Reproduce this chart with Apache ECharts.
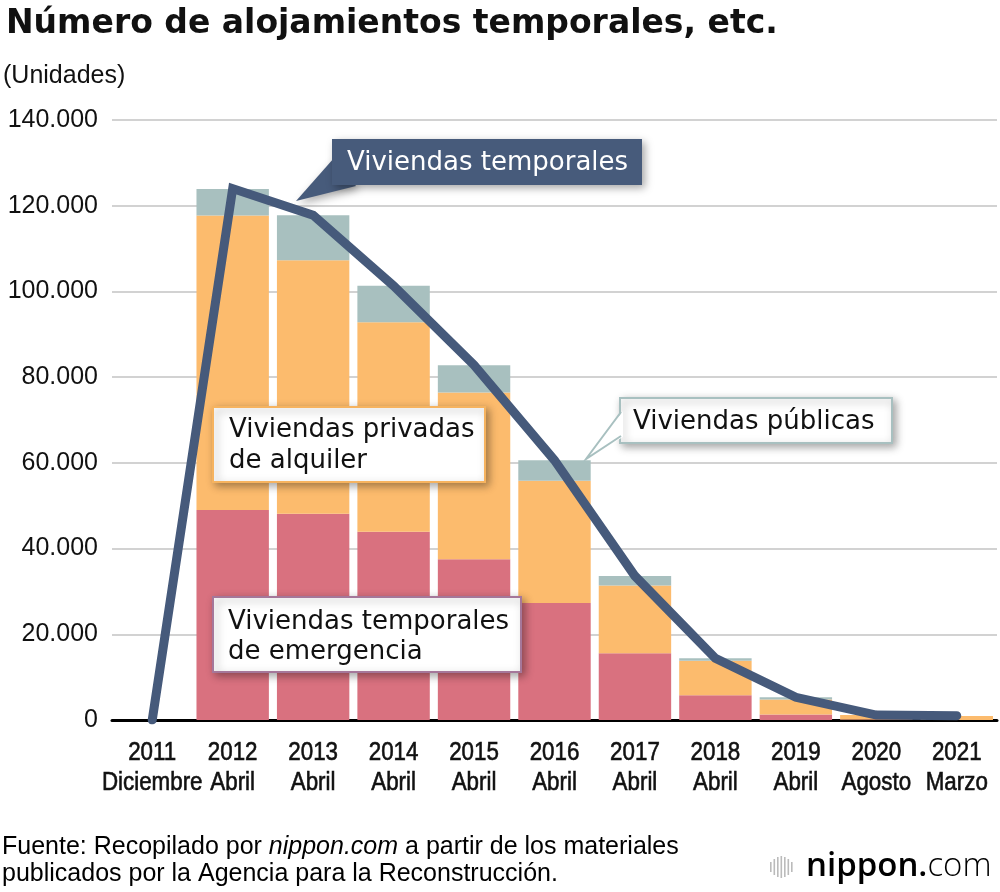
<!DOCTYPE html>
<html><head><meta charset="utf-8">
<script src="https://cdn.jsdelivr.net/npm/echarts@6/dist/echarts.min.js"></script>
<style>html,body{margin:0;padding:0;background:#fff}#c{width:1000px;height:892px}</style>
</head><body><div id="c"></div>
<script>
const categories = ['2011\nDiciembre','2012\nAbril','2013\nAbril','2014\nAbril','2015\nAbril','2016\nAbril','2017\nAbril','2018\nAbril','2019\nAbril','2020\nAgosto','2021\nMarzo'];
const emergencia = [0, 49000, 48100, 43900, 37500, 27300, 15600, 5800, 1300, 100, 0];
const privadas   = [0, 68700, 59200, 48900, 38900, 28500, 15800, 8000, 3500, 1050, 950];
const publicas   = [0, 6200, 10500, 8500, 6400, 4800, 2200, 600, 500, 0, 0];
const totales    = [0, 124000, 117800, 101300, 82800, 60600, 33600, 14400, 5300, 1150, 1000];
const yTickValues = [0, 20000, 40000, 60000, 80000, 100000, 120000, 140000];
const yTickLabels = ['0', '20.000', '40.000', '60.000', '80.000', '100.000', '120.000', '140.000'];

const chart = echarts.init(document.getElementById('c'), null, {renderer: 'canvas'});
const shadow = {shadowBlur: 8, shadowOffsetX: 3, shadowOffsetY: 3, shadowColor: 'rgba(0,0,0,0.35)'};

const staticGraphics = [
  {type: 'text', left: 6, top: 8, z: 10,
   style: {text: 'Número de alojamientos temporales, etc.', fill: '#111',
     font: 'bold 33px "DejaVu Sans", sans-serif'}},
  {type: 'text', left: 3, top: 64, z: 10,
   style: {text: '(Unidades)', fill: '#111', font: '25px "Liberation Sans", Arial, sans-serif'}},

  // Viviendas temporales callout
  {type: 'polygon', z: 20, shape: {points: [[334, 158], [296, 201], [356, 186]]},
   style: Object.assign({fill: '#475b7b'}, shadow)},
  {type: 'rect', z: 21, shape: {x: 332, y: 139, width: 310, height: 46},
   style: Object.assign({fill: '#475b7b'}, shadow)},
  {type: 'text', z: 22, x: 347, y: 163,
   style: {text: 'Viviendas temporales', fill: '#fff', font: '26px "DejaVu Sans", sans-serif',
     textVerticalAlign: 'middle'}},

  // Viviendas públicas callout
  {type: 'rect', z: 21, shape: {x: 620, y: 398, width: 272, height: 45},
   style: Object.assign({fill: '#fff', stroke: '#a8c0c0', lineWidth: 2}, shadow)},
  {type: 'polygon', z: 22, shape: {points: [[623, 411], [586, 459], [623, 437]]},
   style: {fill: '#fff'}},
  {type: 'polyline', z: 23, shape: {points: [[621, 412], [586, 459], [621, 436]]},
   style: {stroke: '#a8c0c0', lineWidth: 2, fill: null}},
  {type: 'text', z: 24, x: 633, y: 422,
   style: {text: 'Viviendas públicas', fill: '#111', font: '26px "DejaVu Sans", sans-serif',
     textVerticalAlign: 'middle'}},

  // Viviendas privadas de alquiler
  {type: 'rect', z: 21, shape: {x: 213, y: 407, width: 272, height: 75},
   style: Object.assign({fill: '#fff', stroke: '#f6b35f', lineWidth: 2}, shadow)},
  {type: 'text', z: 22, x: 229, y: 446,
   style: {text: 'Viviendas privadas\nde alquiler', fill: '#111', font: '26px "DejaVu Sans", sans-serif',
     lineHeight: 31, textVerticalAlign: 'middle'}},

  // Viviendas temporales de emergencia
  {type: 'rect', z: 21, shape: {x: 213, y: 597, width: 308, height: 75},
   style: Object.assign({fill: '#fff', stroke: '#a5779a', lineWidth: 2}, shadow)},
  {type: 'text', z: 22, x: 228, y: 637,
   style: {text: 'Viviendas temporales\nde emergencia', fill: '#111', font: '26px "DejaVu Sans", sans-serif',
     lineHeight: 30, textVerticalAlign: 'middle'}},

  // Footer
  {type: 'text', z: 10, x: 2, y: 861,
   style: {
     text: '{n|Fuente: Recopilado por }{i|nippon.com}{n| a partir de los materiales}\n{n|publicados por la Agencia para la Reconstrucción.}',
     textVerticalAlign: 'middle', lineHeight: 27,
     rich: {
       n: {fontFamily: 'Liberation Sans, Arial, sans-serif', fontSize: 25, color: '#111', lineHeight: 27},
       i: {fontFamily: 'Liberation Sans, Arial, sans-serif', fontSize: 25, fontStyle: 'italic', color: '#111', lineHeight: 27}
     }
   }},

  // Logo
  {type: 'group', z: 10, children: [
    {type: 'rect', shape: {x: 770, y: 862, width: 1.6, height: 10}, style: {fill: '#bbb'}},
    {type: 'rect', shape: {x: 773.5, y: 859, width: 1.6, height: 16}, style: {fill: '#bbb'}},
    {type: 'rect', shape: {x: 777, y: 857, width: 1.6, height: 20}, style: {fill: '#bbb'}},
    {type: 'rect', shape: {x: 780.5, y: 856, width: 1.6, height: 22}, style: {fill: '#bbb'}},
    {type: 'rect', shape: {x: 784, y: 857, width: 1.6, height: 20}, style: {fill: '#bbb'}},
    {type: 'rect', shape: {x: 787.5, y: 859, width: 1.6, height: 16}, style: {fill: '#bbb'}},
    {type: 'rect', shape: {x: 791, y: 862, width: 1.6, height: 10}, style: {fill: '#bbb'}}
  ]},
  {type: 'text', z: 10, x: 806, y: 867,
   style: {
     text: '{a|nippon}{b|.}{c|com}', textVerticalAlign: 'middle',
     rich: {
       a: {fontFamily: 'Open Sans, sans-serif', fontWeight: 600, fontSize: 33, color: '#707070'},
       b: {fontFamily: 'Open Sans, sans-serif', fontWeight: 600, fontSize: 33, color: '#e60012'},
       c: {fontFamily: 'Open Sans, sans-serif', fontWeight: 300, fontSize: 33, color: '#9a9a9a'}
     }
   }}
];

chart.setOption({
  animation: false,
  backgroundColor: '#fff',
  grid: {left: 112, right: 3, top: 120, bottom: 172, containLabel: false},
  xAxis: {
    type: 'category',
    data: categories,
    axisLine: {lineStyle: {color: '#000', width: 3}},
    axisTick: {show: false},
    axisLabel: {show: false}
  },
  yAxis: {
    type: 'value', min: 0, max: 140000, interval: 20000,
    axisLine: {show: false}, axisTick: {show: false},
    splitLine: {lineStyle: {color: '#d2d2d2', width: 2}},
    axisLabel: {
      margin: 14, color: '#111', fontFamily: 'Liberation Sans, Arial, sans-serif', fontSize: 25,
      formatter: v => { const i = yTickValues.indexOf(v); return i >= 0 ? yTickLabels[i] : ''; }
    }
  },
  series: [
    {name: 'Viviendas temporales de emergencia', type: 'bar', stack: 'a', data: emergencia,
     barCategoryGap: '10%', itemStyle: {color: '#d9717f'}},
    {name: 'Viviendas privadas de alquiler', type: 'bar', stack: 'a', data: privadas,
     itemStyle: {color: '#fcbb6d'}},
    {name: 'Viviendas públicas', type: 'bar', stack: 'a', data: publicas,
     itemStyle: {color: '#a8c0bf'}},
    {name: 'Viviendas temporales', type: 'line', data: totales, symbol: 'none', z: 5,
     lineStyle: {color: '#465a7b', width: 9, cap: 'round', join: 'miter'}}
  ],
  graphic: staticGraphics
});

// Condensed category labels placed at the category axis positions
const xLabelGraphics = categories.map((c, i) => ({
  type: 'text', z: 10,
  x: chart.convertToPixel({xAxisIndex: 0}, i),
  y: 738,
  scaleX: 0.86,
  style: {text: c, fill: '#111', stroke: '#111', lineWidth: 0.6,
    font: '26px "Liberation Sans", Arial, sans-serif',
    lineHeight: 30, textAlign: 'center', textVerticalAlign: 'top'}
}));
chart.setOption({graphic: staticGraphics.concat(xLabelGraphics)});
</script></body></html>
